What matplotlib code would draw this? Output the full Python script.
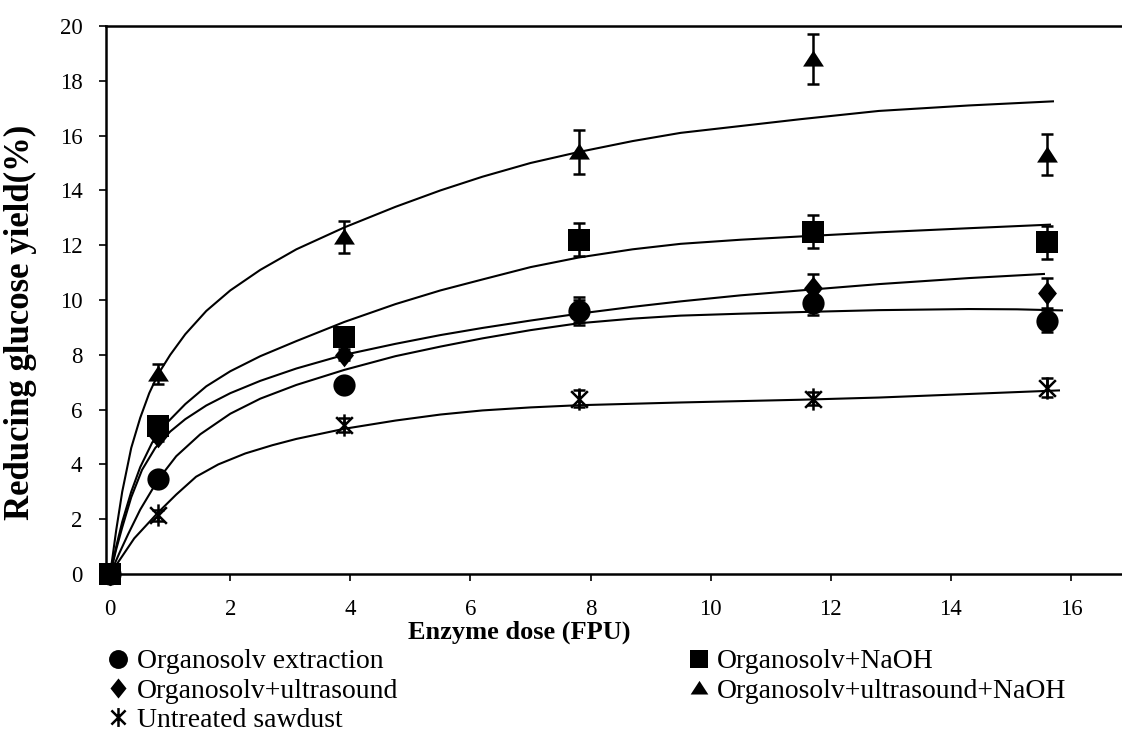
import matplotlib
matplotlib.use("Agg")
import matplotlib.pyplot as plt
from matplotlib.path import Path

plt.rcParams.update({
    "font.family": "serif",
    "font.serif": ["Liberation Serif", "DejaVu Serif"],
    "axes.linewidth": 1.8,
})

# ---- measured points: enzyme dose (FPU) vs reducing glucose yield (%) --------
dose = [0, 0.8, 3.9, 7.8, 11.7, 15.6]

org_ext = [0, 3.45, 6.9, 9.6, 9.9, 9.25]
org_ext_err = [0, 0.2, 0.2, 0.5, 0.45, 0.4]
org_naoh = [0, 5.4, 8.65, 12.2, 12.5, 12.1]
org_naoh_err = [0, 0.2, 0.25, 0.6, 0.6, 0.6]
org_us = [0, 5.05, 8.0, 9.6, 10.45, 10.25]
org_us_err = [0, 0.2, 0.2, 0.4, 0.5, 0.55]
org_us_naoh = [0, 7.3, 12.3, 15.4, 18.8, 15.3]
org_us_naoh_err = [0, 0.35, 0.6, 0.8, 0.9, 0.75]
untreated = [0, 2.15, 5.45, 6.4, 6.4, 6.8]
untreated_err = [0, 0.2, 0.25, 0.3, 0.25, 0.35]

# ---- fitted trend curves, traced point by point ------------------------------
fit_ext_x = [0, 0.15, 0.3, 0.5, 0.8, 1.1, 1.5, 2.0, 2.5, 3.1, 3.9, 4.75, 5.5, 6.2,
             7.0, 7.8, 8.7, 9.5, 10.5, 11.5, 12.8, 14.3, 15.1, 15.85]
fit_ext_y = [0, 0.75, 1.46, 2.35, 3.45, 4.3, 5.1, 5.85, 6.4, 6.9, 7.45, 7.95, 8.3, 8.6,
             8.9, 9.15, 9.32, 9.43, 9.5, 9.56, 9.63, 9.67, 9.66, 9.62]

fit_naoh_x = [0, 0.1, 0.2, 0.35, 0.5, 0.7, 0.96, 1.25, 1.6, 2.0, 2.5, 3.1, 3.9, 4.75,
              5.5, 6.2, 7.0, 7.8, 8.7, 9.5, 10.5, 11.5, 12.8, 14.3, 15.65]
fit_naoh_y = [0, 1.0, 1.9, 3.0, 3.9, 4.8, 5.55, 6.2, 6.85, 7.4, 7.95, 8.5, 9.2, 9.85,
              10.35, 10.75, 11.2, 11.55, 11.85, 12.05, 12.2, 12.32, 12.47, 12.62, 12.75]

fit_us_x = [0, 0.1, 0.2, 0.35, 0.53, 0.75, 1.0, 1.25, 1.6, 2.0, 2.5, 3.1, 3.9, 4.75,
            5.5, 6.2, 7.0, 7.8, 8.7, 9.5, 10.5, 11.5, 12.8, 14.3, 15.55]
fit_us_y = [0, 0.9, 1.7, 2.8, 3.8, 4.6, 5.2, 5.65, 6.15, 6.6, 7.05, 7.5, 8.0, 8.4,
            8.72, 8.98, 9.25, 9.5, 9.75, 9.95, 10.17, 10.35, 10.58, 10.8, 10.95]

fit_us_naoh_x = [0, 0.1, 0.2, 0.35, 0.5, 0.65, 0.8, 1.0, 1.25, 1.6, 2.0, 2.5, 3.1, 3.9,
                 4.75, 5.5, 6.2, 7.0, 7.8, 8.7, 9.5, 10.5, 11.5, 12.8, 14.3, 15.7]
fit_us_naoh_y = [0, 1.6, 3.0, 4.6, 5.7, 6.6, 7.3, 8.0, 8.75, 9.6, 10.35, 11.1, 11.85, 12.65,
                 13.4, 14.0, 14.5, 15.0, 15.4, 15.8, 16.1, 16.35, 16.6, 16.9, 17.1, 17.25]

fit_raw_x = [0, 0.4, 0.8, 1.1, 1.43, 1.8, 2.25, 2.7, 3.1, 3.9, 4.75, 5.5, 6.2, 7.0,
             7.8, 9.5, 11.5, 12.8, 14.3, 15.8]
fit_raw_y = [0, 1.3, 2.25, 2.9, 3.55, 4.0, 4.4, 4.7, 4.93, 5.3, 5.6, 5.82, 5.97, 6.08,
             6.16, 6.26, 6.36, 6.44, 6.57, 6.7]

labels = ["Organosolv extraction", "Organosolv+NaOH", "Organosolv+ultrasound",
          "Organosolv+ultrasound+NaOH", "Untreated sawdust"]

# ---- marker shapes -----------------------------------------------------------
M, L = Path.MOVETO, Path.LINETO
asterisk = Path([(0, -1), (0, 1), (-0.75, -0.75), (0.75, 0.75), (-0.75, 0.75), (0.75, -0.75)],
                [M, L, M, L, M, L])
triangle = [(-1, -0.68), (1, -0.68), (0, 0.86), (-1, -0.68)]
diamond = [(0, 1), (0.8, 0), (0, -1), (-0.8, 0), (0, 1)]

fig = plt.figure(figsize=(11.22, 7.35), dpi=100)
ax = fig.add_axes([106 / 1122, 1 - 574 / 735, 1 - 106 / 1122, 548 / 735])

for fx, fy in [(fit_raw_x, fit_raw_y), (fit_ext_x, fit_ext_y), (fit_us_x, fit_us_y),
               (fit_naoh_x, fit_naoh_y), (fit_us_naoh_x, fit_us_naoh_y)]:
    ax.plot(fx, fy, color="black", lw=1.5, zorder=2, solid_joinstyle="round")

series = [
    (org_ext, org_ext_err, "o", 16, labels[0]),
    (org_us, org_us_err, diamond, 17, labels[2]),
    (untreated, untreated_err, asterisk, 16, labels[4]),
    (org_us_naoh, org_us_naoh_err, triangle, 15, labels[3]),
    (org_naoh, org_naoh_err, "s", 16, labels[1]),
]
handles = {}
for y, err, mk, ms, lab in series:
    ax.errorbar(dose, y, yerr=err, fmt="none", ecolor="black", elinewidth=1.8,
                capsize=4.5, capthick=1.8, zorder=3)
    if mk is asterisk:
        h, = ax.plot(dose, y, ls="none", marker=mk, ms=ms, mfc="none",
                     mec="black", mew=1.8, zorder=4, label=lab, clip_on=False)
    else:
        h, = ax.plot(dose, y, ls="none", marker=mk, ms=ms, color="black",
                     mew=0, zorder=4, label=lab, clip_on=False)
    handles[lab] = h

ax.set_xlim(-0.07, 16.85)
ax.set_ylim(0, 20)
ax.set_xticks(range(0, 17, 2))
ax.set_yticks(range(0, 21, 2))
ax.spines["right"].set_visible(False)
ax.tick_params(direction="out", length=5, width=1.2, labelsize=16.5)
ax.tick_params(axis="x", pad=13)
ax.tick_params(axis="y", pad=12)

ax.set_xlabel("Enzyme dose (FPU)", fontsize=19, fontweight="bold")
ax.xaxis.set_label_coords(0.407, -0.085)
ax.set_ylabel("Reducing glucose yield(%)", fontsize=25, fontweight="bold")
ax.yaxis.set_label_coords(-0.068, 0.46)

order = [labels[0], labels[2], labels[4], labels[1], labels[3]]
fig.legend([handles[k] for k in order], order, ncol=2, loc="upper left",
           bbox_to_anchor=(106 / 1122, 1 - 649 / 735), frameon=False,
           fontsize=20, markerscale=0.85, handlelength=0.9, handletextpad=0.2,
           labelspacing=0.14, columnspacing=10.4, borderpad=0, borderaxespad=0)

fig.savefig("out.png", dpi=100, facecolor="white")
